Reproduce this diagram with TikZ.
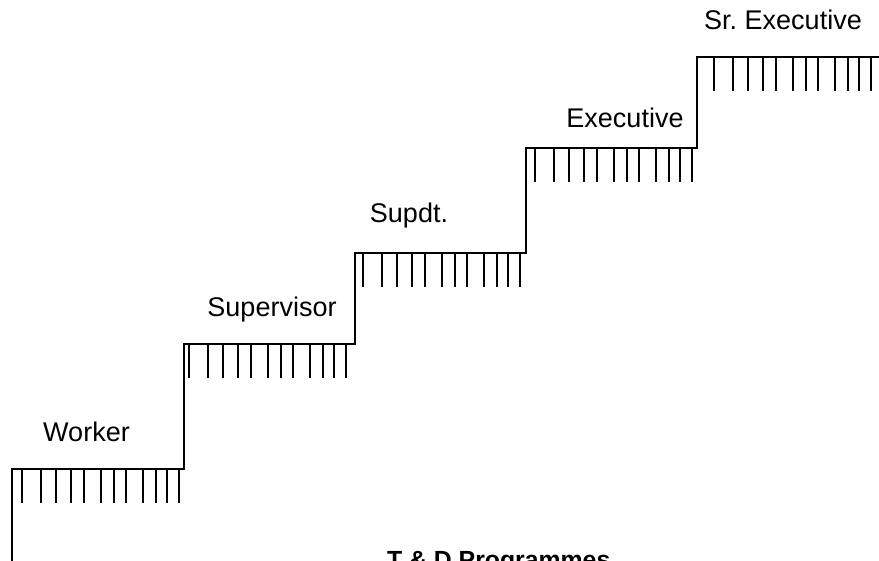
\documentclass[tikz,border=0pt]{standalone}
\usepackage{fontspec}
\setmainfont{Liberation Sans}
\begin{document}
\begin{tikzpicture}[x=0.5pt,y=-0.5pt,line width=1.1pt,
rank/.style={anchor=base,inner sep=0pt,font=\fontsize{13.5}{16}\selectfont},
ruling/.style={line width=1pt}]
\useasboundingbox (0,0) rectangle (879,561);
\clip (0,0) rectangle (879,561);
% left corner of every tread
\coordinate (base) at (12,561);
\coordinate (w) at (12,469);
\coordinate (sv) at (184,344);
\coordinate (sp) at (355,253);
\coordinate (ex) at (526,148);
\coordinate (sr) at (697,57);
\coordinate (top) at (879,57);
\draw (base) -- (w) -| (sv) -| (sp) -| (ex) -| (sr) -- (top);
% hanging strokes under each tread
\foreach \x/\y in {22/469,189/344,363/253,535/148,714/57}
  \foreach \d in {0,19,34,49,62,79,92,104,121,134,145,157}
    \draw[ruling] (\x+\d,\y) -- ++(0,34);
\node[rank] (worker) at (86.5,442) {Worker};
\node[rank] (supervisor) at (272,317) {Supervisor};
\node[rank] (supdt) at (409,223) {Supdt.};
\node[rank] (exec) at (625,128) {Executive};
\node[rank] (srexec) at (783,30) {Sr.\ Executive};
\node[rank,anchor=base west,font=\bfseries\fontsize{12.4}{15}\selectfont] (prog) at (386,568) {T \& D Programmes};
\end{tikzpicture}
\end{document}
